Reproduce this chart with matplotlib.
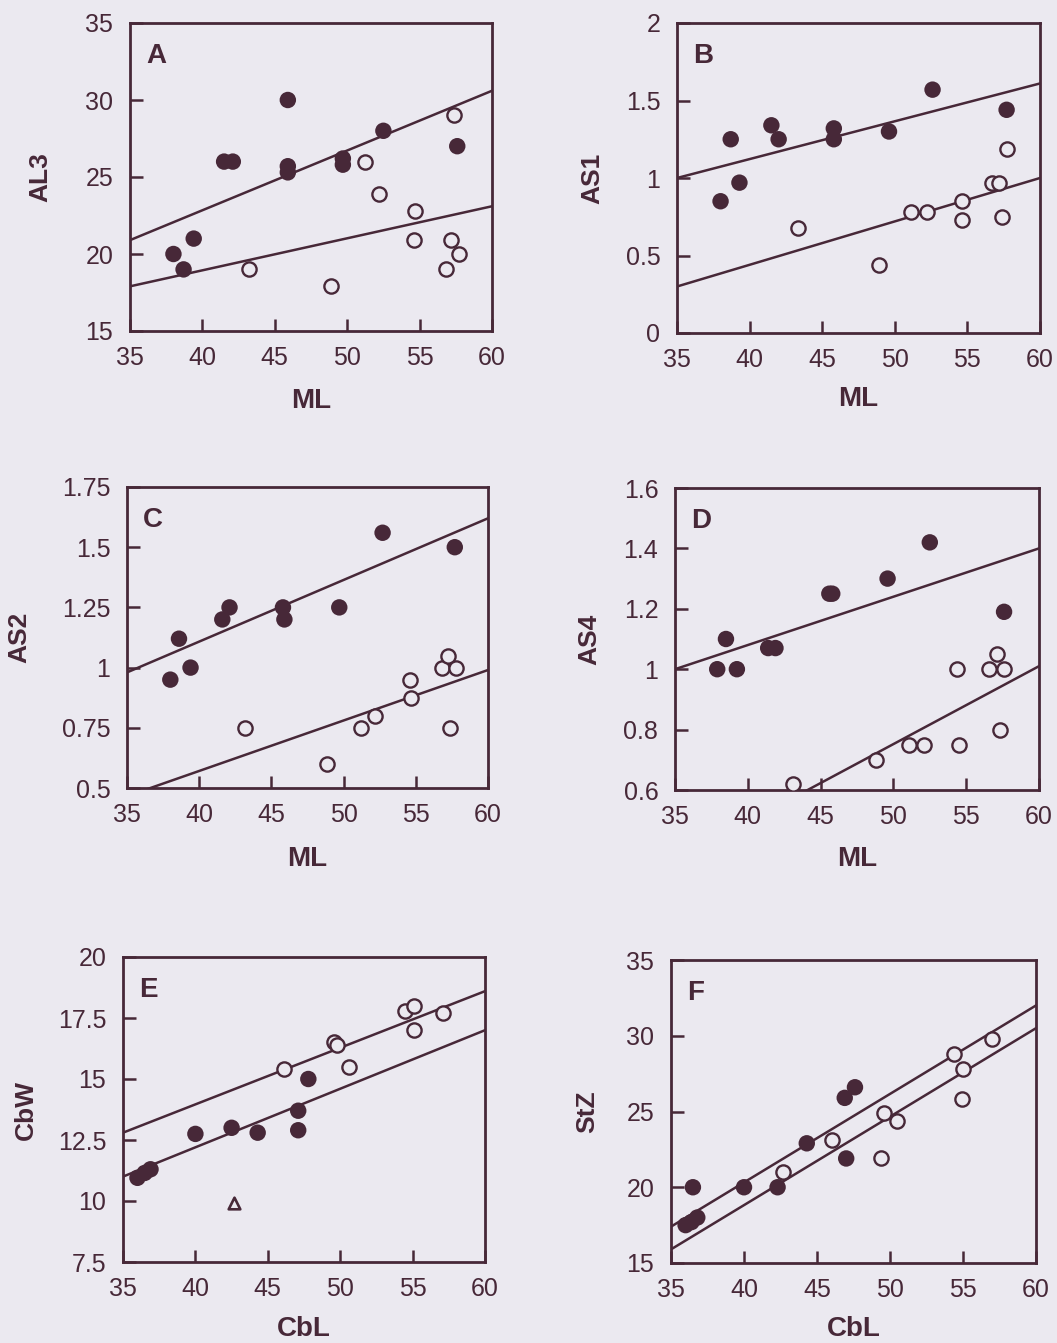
import matplotlib.pyplot as plt
from matplotlib.ticker import FixedLocator, FuncFormatter

INK = "#472838"
BG = "#ebe9f0"

plt.rcParams["font.family"] = ["Liberation Sans", "DejaVu Sans"]

# Panel A: ML vs AL3
a_filled_x = [38.0, 38.7, 39.4, 41.5, 42.1, 45.9, 45.9, 45.9, 49.7, 49.7, 52.5, 57.6]
a_filled_y = [20.0, 19.0, 21.0, 26.0, 26.0, 30.0, 25.7, 25.3, 26.2, 25.8, 28.0, 27.0]
a_open_x = [43.2, 48.9, 51.2, 52.2, 54.7, 54.6, 56.8, 57.2, 57.4, 57.7]
a_open_y = [19.0, 17.9, 26.0, 23.9, 22.8, 20.9, 19.0, 20.9, 29.0, 20.0]
a_fit_filled = [20.9, 30.6]
a_fit_open = [17.9, 23.1]

# Panel B: ML vs AS1
b_filled_x = [38.0, 38.7, 39.3, 41.5, 42.0, 45.8, 45.8, 49.6, 52.6, 57.7]
b_filled_y = [0.85, 1.25, 0.97, 1.34, 1.25, 1.32, 1.25, 1.30, 1.57, 1.44]
b_open_x = [43.3, 48.9, 51.1, 52.2, 54.6, 54.6, 56.7, 57.2, 57.4, 57.7]
b_open_y = [0.68, 0.44, 0.78, 0.78, 0.85, 0.73, 0.97, 0.97, 0.75, 1.19]
b_fit_filled = [1.0, 1.61]
b_fit_open = [0.30, 1.0]

# Panel C: ML vs AS2
c_filled_x = [38.0, 38.6, 39.4, 41.6, 42.1, 45.8, 45.9, 49.7, 52.7, 57.7]
c_filled_y = [0.95, 1.12, 1.0, 1.2, 1.25, 1.25, 1.2, 1.25, 1.56, 1.5]
c_open_x = [43.2, 48.85, 51.2, 52.2, 54.6, 54.7, 56.8, 57.2, 57.8, 57.4]
c_open_y = [0.75, 0.6, 0.75, 0.8, 0.95, 0.875, 1.0, 1.05, 1.0, 0.75]
c_fit_filled = [0.98, 1.62]
c_fit_open = [0.466, 0.99]

# Panel D: ML vs AS4
d_filled_x = [37.9, 38.5, 39.25, 41.4, 41.9, 45.6, 45.8, 49.6, 52.5, 57.6]
d_filled_y = [1.0, 1.1, 1.0, 1.07, 1.07, 1.25, 1.25, 1.3, 1.42, 1.19]
d_open_x = [43.1, 48.8, 51.1, 52.1, 54.4, 54.5, 56.6, 57.1, 57.6, 57.3]
d_open_y = [0.62, 0.7, 0.75, 0.75, 1.0, 0.75, 1.0, 1.05, 1.0, 0.8]
d_fit_filled = [1.0, 1.4]
d_fit_open = [0.365, 1.01]

# Panel E: CbL vs CbW
e_filled_x = [36.0, 36.5, 36.9, 40.0, 42.5, 44.3, 47.1, 47.1, 47.8]
e_filled_y = [10.95, 11.15, 11.3, 12.75, 13.0, 12.8, 13.7, 12.9, 15.0]
e_open_x = [46.1, 49.6, 49.8, 50.6, 54.5, 55.1, 55.1, 57.1]
e_open_y = [15.4, 16.5, 16.4, 15.5, 17.8, 18.0, 17.0, 17.7]
e_tri_x = [42.7]
e_tri_y = [9.9]
e_fit_open = [12.8, 18.6]
e_fit_filled = [11.0, 17.0]

# Panel F: CbL vs StZ
f_filled_x = [36.0, 36.4, 36.5, 36.8, 40.0, 42.3, 44.3, 46.9, 47.6, 47.0]
f_filled_y = [17.5, 17.7, 20.0, 18.0, 20.0, 20.0, 22.9, 25.9, 26.6, 21.9]
f_open_x = [42.7, 46.0, 49.4, 49.6, 50.5, 54.4, 55.0, 54.9, 57.0]
f_open_y = [21.0, 23.1, 21.9, 24.9, 24.4, 28.8, 27.8, 25.8, 29.8]
f_fit_filled = [17.4, 32.0]
f_fit_open = [15.9, 30.5]

fit_x = [35, 60]
x_ticks = [35, 40, 45, 50, 55, 60]

panels = [
    # letter, ylabel, xlabel, yticks, filled, open, fits, rect(px), ylabel_x, xlabel_y
    ("A", "AL3", "ML", [15, 20, 25, 30, 35], (a_filled_x, a_filled_y), (a_open_x, a_open_y),
     [a_fit_filled, a_fit_open], (130, 492, 23, 331), -0.215, -0.185),
    ("B", "AS1", "ML", [0, 0.5, 1, 1.5, 2], (b_filled_x, b_filled_y), (b_open_x, b_open_y),
     [b_fit_filled, b_fit_open], (677, 1040, 23, 333), -0.201, -0.171),
    ("C", "AS2", "ML", [0.5, 0.75, 1, 1.25, 1.5, 1.75], (c_filled_x, c_filled_y), (c_open_x, c_open_y),
     [c_fit_filled, c_fit_open], (127, 488, 487, 788), -0.266, -0.193),
    ("D", "AS4", "ML", [0.6, 0.8, 1, 1.2, 1.4, 1.6], (d_filled_x, d_filled_y), (d_open_x, d_open_y),
     [d_fit_filled, d_fit_open], (675, 1039, 488, 790), -0.203, -0.185),
    ("E", "CbW", "CbL", [7.5, 10, 12.5, 15, 17.5, 20], (e_filled_x, e_filled_y), (e_open_x, e_open_y),
     [e_fit_open, e_fit_filled], (123, 485, 957, 1262), -0.235, -0.177),
    ("F", "StZ", "CbL", [15, 20, 25, 30, 35], (f_filled_x, f_filled_y), (f_open_x, f_open_y),
     [f_fit_filled, f_fit_open], (671, 1036, 960, 1263), -0.197, -0.175),
]

W, H = 1057, 1343
fig = plt.figure(figsize=(W / 100, H / 100), dpi=100, facecolor=BG)

for letter, ylab, xlab, yticks, filled, opened, fits, rect, ylx, xly in panels:
    x0, x1, y0, y1 = rect
    ax = fig.add_axes([x0 / W, 1 - y1 / H, (x1 - x0) / W, (y1 - y0) / H])
    ax.set_facecolor(BG)
    for fy in fits:
        ax.plot(fit_x, fy, color=INK, lw=1.8, zorder=2)
    ax.scatter(*filled, s=140, color=INK, edgecolors="none", zorder=3)
    ax.scatter(*opened, s=105, facecolors=BG, edgecolors=INK, linewidths=1.7, zorder=4)
    if letter == "E":
        ax.scatter(e_tri_x, e_tri_y, marker="^", s=70, facecolors=BG,
                   edgecolors=INK, linewidths=1.9, zorder=4)
    ax.set_xlim(35, 60)
    ax.set_ylim(yticks[0], yticks[-1])
    ax.xaxis.set_major_locator(FixedLocator(x_ticks))
    ax.yaxis.set_major_locator(FixedLocator(yticks))
    ax.yaxis.set_major_formatter(FuncFormatter(lambda v, p: f"{v:g}"))
    ax.tick_params(direction="in", length=9, width=1.8, color=INK,
                   labelcolor=INK, labelsize=18)
    ax.tick_params(axis="x", pad=11)
    ax.tick_params(axis="y", pad=12)
    for sp in ax.spines.values():
        sp.set_color(INK)
        sp.set_linewidth(2.0)
    ax.set_xlabel(xlab, fontsize=20, fontweight="bold", color=INK)
    ax.set_ylabel(ylab, fontsize=19, fontweight="bold", color=INK)
    ax.xaxis.set_label_coords(0.5, xly)
    ax.yaxis.set_label_coords(ylx, 0.5)
    ax.text(0.045, 0.935, letter, transform=ax.transAxes, fontsize=20,
            fontweight="bold", color=INK, va="top", ha="left")

fig.savefig("out.png", dpi=100, facecolor=BG)
